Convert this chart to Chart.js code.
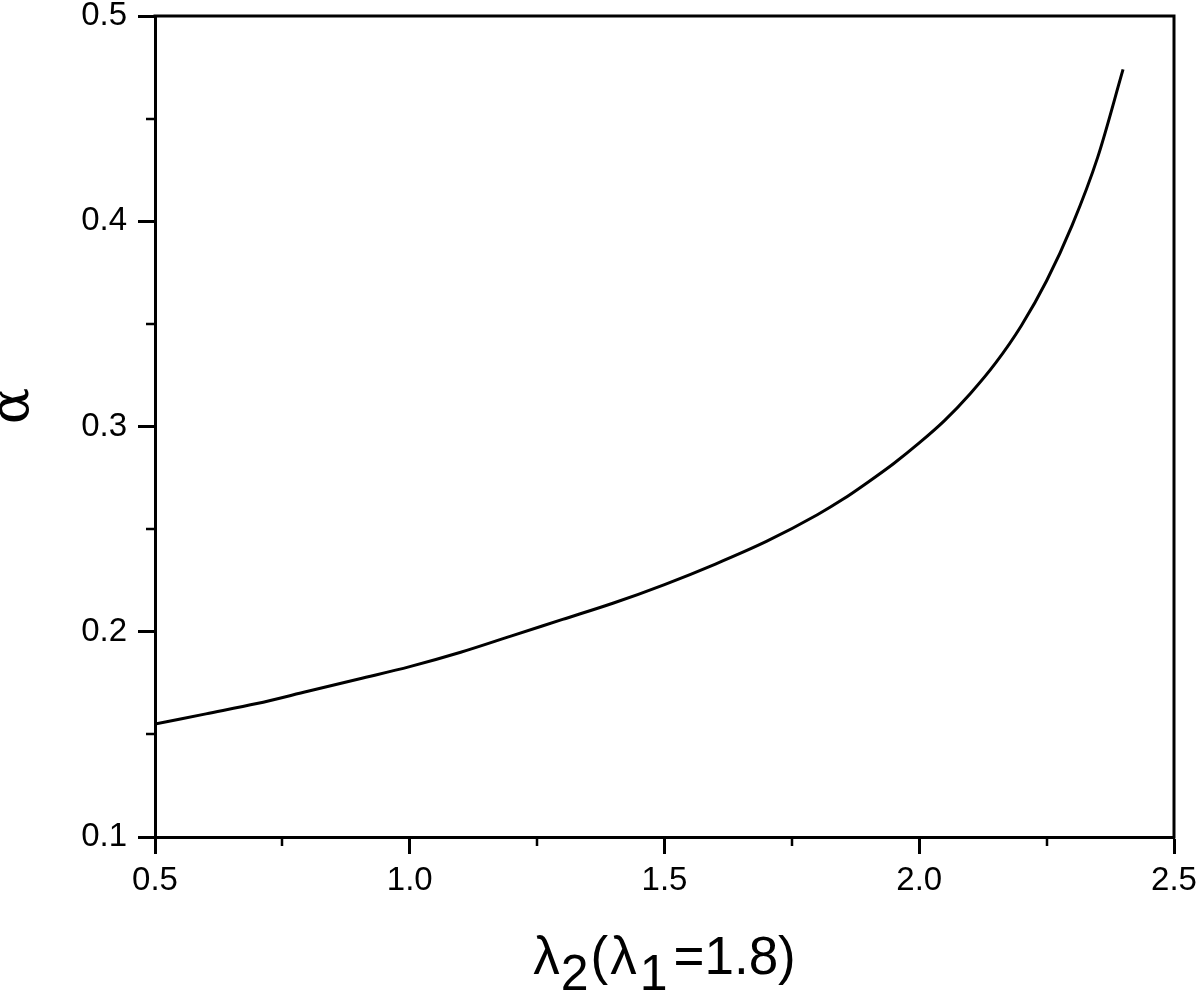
<!DOCTYPE html>
<html lang="en">
<head>
<meta charset="UTF-8">
<title>alpha vs lambda2</title>
<script src="https://cdn.jsdelivr.net/npm/chart.js"></script>
<style>
  html, body { margin: 0; padding: 0; background: #fff; }
</style>
</head>
<body>
<canvas id="chart" width="1200" height="992"></canvas>
<script>
// curve values
const lambda2 = [0.5, 0.6, 0.7, 0.8, 0.9, 1.0, 1.1, 1.2, 1.3, 1.4, 1.5, 1.6, 1.7, 1.8, 1.85, 1.9, 1.95, 2.0, 2.05, 2.1, 2.15, 2.2, 2.25, 2.3, 2.35, 2.4];
const alpha = [0.155, 0.160, 0.165, 0.171, 0.177, 0.183, 0.190, 0.198, 0.206, 0.214, 0.223, 0.233, 0.244, 0.257, 0.2645, 0.273, 0.282, 0.292, 0.303, 0.316, 0.331, 0.349, 0.371, 0.398, 0.431, 0.474];

// ticks
const xTicks = [0.5, 1.0, 1.5, 2.0, 2.5];
const xMinorTicks = [0.75, 1.25, 1.75, 2.25];
const yTicks = [0.1, 0.2, 0.3, 0.4, 0.5];
const yMinorTicks = [0.15, 0.25, 0.35, 0.45];

const FONT = "'Liberation Sans', Arial, Helvetica, sans-serif";

// frame on top/right, minor ticks and the two axis titles
const decorations = {
    id: 'decorations',
    afterDraw(chart) {
        const ctx = chart.ctx;
        const a = chart.chartArea;
        const x = chart.scales.x, y = chart.scales.y;
        ctx.save();
        ctx.strokeStyle = '#000';
        ctx.lineWidth = 3;
        ctx.beginPath();
        ctx.moveTo(a.left - 1.5, a.top);
        ctx.lineTo(a.right, a.top);
        ctx.lineTo(a.right, a.bottom + 1.5);
        ctx.stroke();

        ctx.lineWidth = 2.5;
        ctx.beginPath();
        xMinorTicks.forEach(function(v) {
            const px = Math.round(x.getPixelForValue(v));
            ctx.moveTo(px, a.bottom);
            ctx.lineTo(px, a.bottom + 9);
        });
        yMinorTicks.forEach(function(v) {
            const py = Math.round(y.getPixelForValue(v));
            ctx.moveTo(a.left, py);
            ctx.lineTo(a.left - 9, py);
        });
        ctx.stroke();

        ctx.fillStyle = '#000';
        // y title
        ctx.save();
        ctx.translate(28, 406);
        ctx.rotate(-Math.PI / 2);
        ctx.font = '54px "DejaVu Serif", "Liberation Serif", serif';
        ctx.textAlign = 'center';
        ctx.textBaseline = 'alphabetic';
        ctx.fillText('α', 0, 0);
        ctx.restore();

        // x title with subscripts
        const parts = [
            { t: 'λ', sub: false, gap: 1 },
            { t: '2', sub: true, gap: 2 },
            { t: '(', sub: false, gap: 2 },
            { t: 'λ', sub: false, gap: 3 },
            { t: '1', sub: true, gap: 6 },
            { t: '=1.8)', sub: false, gap: 0 }
        ];
        const mainFont = '53px ' + FONT, subFont = '50px ' + FONT;
        let total = 0;
        parts.forEach(function(p) {
            ctx.font = p.sub ? subFont : mainFont;
            p.w = ctx.measureText(p.t).width;
            total += p.w + p.gap;
        });
        let cx = (a.left + a.right) / 2 - total / 2;
        ctx.textAlign = 'left';
        ctx.textBaseline = 'alphabetic';
        parts.forEach(function(p) {
            ctx.font = p.sub ? subFont : mainFont;
            ctx.fillText(p.t, cx, p.sub ? 990 : 974);
            cx += p.w + p.gap;
        });
        ctx.restore();
    }
};

const ctx = document.getElementById('chart').getContext('2d');
const chart = new Chart(ctx, {
    type: 'line',
    data: {
        datasets: [{
            data: lambda2.map(function(v, i) { return { x: v, y: alpha[i] }; }),
            borderColor: '#000',
            borderWidth: 3,
            pointRadius: 0,
            fill: false,
            cubicInterpolationMode: 'monotone'
        }]
    },
    options: {
        responsive: false,
        devicePixelRatio: 1,
        animation: false,
        layout: { padding: { left: 0, top: 16, right: 26, bottom: 0 } },
        plugins: {
            legend: { display: false },
            tooltip: { enabled: false }
        },
        scales: {
            x: {
                type: 'linear',
                min: 0.5,
                max: 2.5,
                afterBuildTicks: function(s) { s.ticks = xTicks.map(function(v) { return { value: v }; }); },
                afterFit: function(s) { s.height = 155; s.paddingLeft = 0; s.paddingRight = 0; },
                ticks: {
                    color: '#000',
                    font: { family: FONT, size: 33 },
                    padding: 7,
                    maxRotation: 0,
                    autoSkip: false,
                    callback: function(v) { return v.toFixed(1); }
                },
                grid: { drawOnChartArea: false, drawTicks: true, tickLength: 17, tickWidth: 3, tickColor: '#000' },
                border: { display: true, color: '#000', width: 3 }
            },
            y: {
                type: 'linear',
                min: 0.1,
                max: 0.5,
                afterBuildTicks: function(s) { s.ticks = yTicks.map(function(v) { return { value: v }; }); },
                afterFit: function(s) { s.width = 155; s.paddingTop = 0; s.paddingBottom = 0; },
                ticks: {
                    color: '#000',
                    font: { family: FONT, size: 33 },
                    padding: 11,
                    autoSkip: false,
                    callback: function(v) { return v.toFixed(1); }
                },
                grid: { drawOnChartArea: false, drawTicks: true, tickLength: 17, tickWidth: 3, tickColor: '#000' },
                border: { display: true, color: '#000', width: 3 }
            }
        }
    },
    plugins: [decorations]
});
</script>
</body>
</html>
